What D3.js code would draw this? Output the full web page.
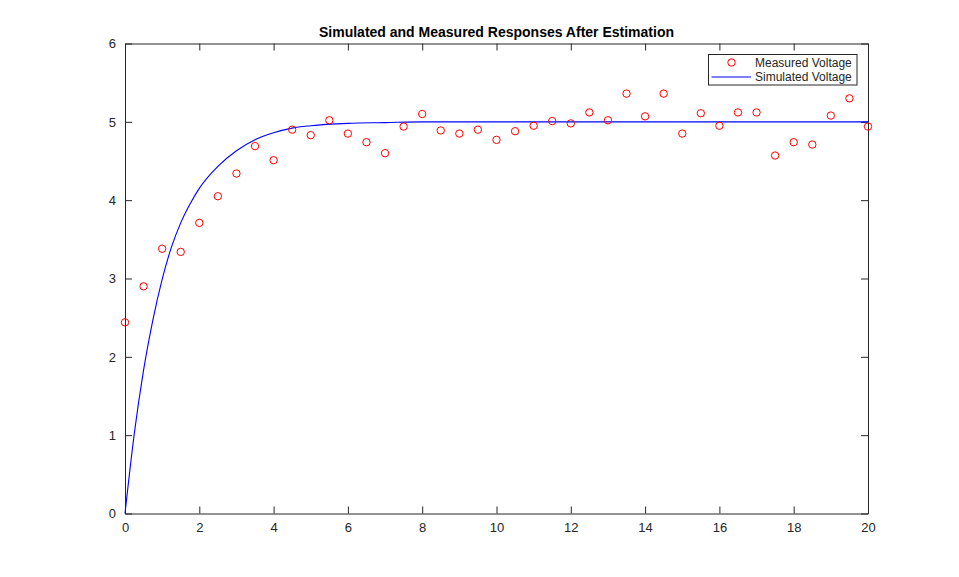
<!DOCTYPE html>
<html lang="en">
<head>
    <meta charset="UTF-8">
    <title>Simulated and Measured Responses After Estimation</title>
    <script src="https://cdn.jsdelivr.net/npm/d3@7"></script>
    <style>
        body { margin: 0; background: #fff; }
        text { font-family: Arial, "Liberation Sans", Helvetica, sans-serif; }
    </style>
</head>
<body>

<script>
    // measured voltage samples (every 0.5 s)
    const measuredTime = [0, 0.5, 1, 1.5, 2, 2.5, 3, 3.5, 4, 4.5, 5, 5.5, 6, 6.5, 7, 7.5, 8, 8.5, 9, 9.5,
        10, 10.5, 11, 11.5, 12, 12.5, 13, 13.5, 14, 14.5, 15, 15.5, 16, 16.5, 17, 17.5, 18, 18.5, 19, 19.5, 20];
    const measuredVoltage = [2.44, 2.90, 3.38, 3.34, 3.71, 4.05, 4.34, 4.69, 4.51, 4.90, 4.83, 5.02, 4.85, 4.74, 4.60, 4.94, 5.10, 4.89, 4.85, 4.90,
        4.77, 4.88, 4.95, 5.01, 4.98, 5.12, 5.02, 5.36, 5.07, 5.36, 4.85, 5.11, 4.95, 5.12, 5.12, 4.57, 4.74, 4.71, 5.08, 5.30, 4.94];

    // simulated voltage
    const simTime = [0, 0.25, 0.5, 0.75, 1.0, 1.25, 1.5, 1.75, 2.0, 2.5, 3.0, 3.5, 4.0, 4.5, 5.0, 6.0, 7.0, 8.0, 10, 12, 14, 16, 18, 20];
    const simVoltage = [0, 1.02, 1.83, 2.47, 2.99, 3.40, 3.71, 3.95, 4.15, 4.43, 4.63, 4.77, 4.86, 4.92, 4.95, 4.98, 4.99, 5.0, 5.0, 5.0, 5.0, 5.0, 5.0, 5.0];

    const xTicks = [0, 2, 4, 6, 8, 10, 12, 14, 16, 18, 20];
    const yTicks = [0, 1, 2, 3, 4, 5, 6];

    const w = 959, h = 577;
    const padL = 125, padR = 868, padT = 43.5, padB = 513.5;
    const axisColor = "#262626";

    const xScale = d3.scaleLinear().domain([0, 20]).range([padL, padR]);
    const yScale = d3.scaleLinear().domain([0, 6]).range([padB, padT]);

    const svg = d3.select("body").append("svg")
        .attr("width", w)
        .attr("height", h);

    // axes with inward ticks on all four sides
    const tickLen = 7;
    svg.append("g")
        .attr("transform", "translate(0," + padB + ")")
        .call(d3.axisBottom(xScale).tickValues(xTicks).tickFormat(d3.format("d"))
            .tickSizeInner(-tickLen).tickSizeOuter(0).tickPadding(9));
    svg.append("g")
        .attr("transform", "translate(0," + padT + ")")
        .call(d3.axisTop(xScale).tickValues(xTicks).tickSizeInner(-tickLen).tickSizeOuter(0).tickFormat(""));
    svg.append("g")
        .attr("transform", "translate(" + padL + ",0)")
        .call(d3.axisLeft(yScale).tickValues(yTicks).tickFormat(d3.format("d"))
            .tickSizeInner(-tickLen).tickSizeOuter(0).tickPadding(9));
    svg.append("g")
        .attr("transform", "translate(" + padR + ",0)")
        .call(d3.axisRight(yScale).tickValues(yTicks).tickSizeInner(-tickLen).tickSizeOuter(0).tickFormat(""));

    svg.selectAll(".domain, .tick line").attr("stroke", axisColor);
    svg.selectAll(".tick text")
        .attr("fill", axisColor)
        .attr("font-size", "13px")
        .attr("font-family", "Arial, 'Liberation Sans', sans-serif");

    // simulated line
    const line = d3.line()
        .x(function (d, i) { return xScale(simTime[i]); })
        .y(function (d) { return yScale(d); })
        .curve(d3.curveMonotoneX);
    svg.append("path")
        .datum(simVoltage)
        .attr("d", line)
        .attr("fill", "none")
        .attr("stroke", "#0000ff")
        .attr("stroke-width", 1.1);

    // measured circles
    svg.selectAll("circle.meas")
        .data(measuredVoltage)
        .enter()
        .append("circle")
        .attr("class", "meas")
        .attr("cx", function (d, i) { return xScale(measuredTime[i]); })
        .attr("cy", function (d) { return yScale(d); })
        .attr("r", 3.7)
        .attr("fill", "none")
        .attr("stroke", "#ff0000")
        .attr("stroke-width", 1);

    // title
    svg.append("text")
        .attr("x", (padL + padR) / 2)
        .attr("y", 37)
        .attr("text-anchor", "middle")
        .attr("font-size", "14px")
        .attr("font-weight", "bold")
        .attr("fill", "#000")
        .text("Simulated and Measured Responses After Estimation");

    // legend
    const lg = svg.append("g");
    lg.append("rect")
        .attr("x", 708.5).attr("y", 54.5)
        .attr("width", 148.5).attr("height", 30.5)
        .attr("fill", "#fff")
        .attr("stroke", axisColor)
        .attr("stroke-width", 1);
    lg.append("circle")
        .attr("cx", 731.5).attr("cy", 62.5).attr("r", 3.7)
        .attr("fill", "none").attr("stroke", "#ff0000");
    lg.append("line")
        .attr("x1", 711.5).attr("x2", 751).attr("y1", 77).attr("y2", 77)
        .attr("stroke", "#0000ff").attr("stroke-width", 1.1);
    lg.append("text")
        .attr("x", 755).attr("y", 66.5)
        .attr("font-size", "12px").attr("fill", axisColor)
        .text("Measured Voltage");
    lg.append("text")
        .attr("x", 755).attr("y", 81)
        .attr("font-size", "12px").attr("fill", axisColor)
        .text("Simulated Voltage");
</script>

</body>
</html>
